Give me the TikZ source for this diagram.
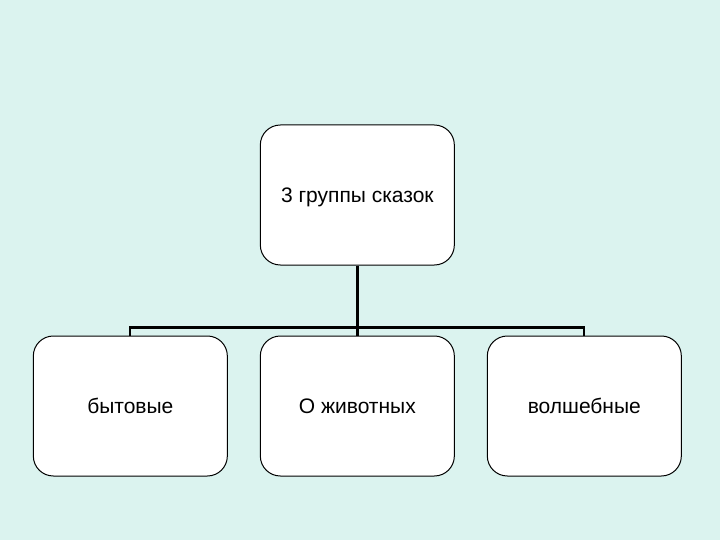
\documentclass[tikz,border=0pt]{standalone}
\usepackage{fontspec}
\setmainfont{Liberation Sans}
\usetikzlibrary{positioning}
\definecolor{slidebg}{HTML}{DBF3EF}

\begin{document}
\begin{tikzpicture}[
    box/.style={
      rectangle,
      rounded corners=15pt,
      draw=black,
      line width=0.75pt,
      fill=white,
      minimum width=145.5pt,
      minimum height=105pt,
      text height=2.3ex,
      text depth=0.3ex,
      align=center,
      font=\fontsize{15.75}{19}\selectfont
    },
    trunk/.style={draw=black, line width=2.2pt},
    bus/.style={draw=black, line width=1.6pt},
    node distance=52.5pt and 24pt
  ]

  \fill[slidebg] (0,0) rectangle (540pt,405pt);
  \useasboundingbox (0,0) rectangle (540pt,405pt);

  \node[box] (tales) at (268pt,258.75pt) {3 группы сказок};
  \node[box, below=of tales] (animal) {О животных};
  \node[box, left=of animal] (life) {бытовые};
  \node[box, right=of animal] (magic) {волшебные};

  \draw[trunk] (tales.south) -- (animal.north);
  \draw[bus] (life.north) -- ++(0,6pt) -| (magic.north);

\end{tikzpicture}
\end{document}
